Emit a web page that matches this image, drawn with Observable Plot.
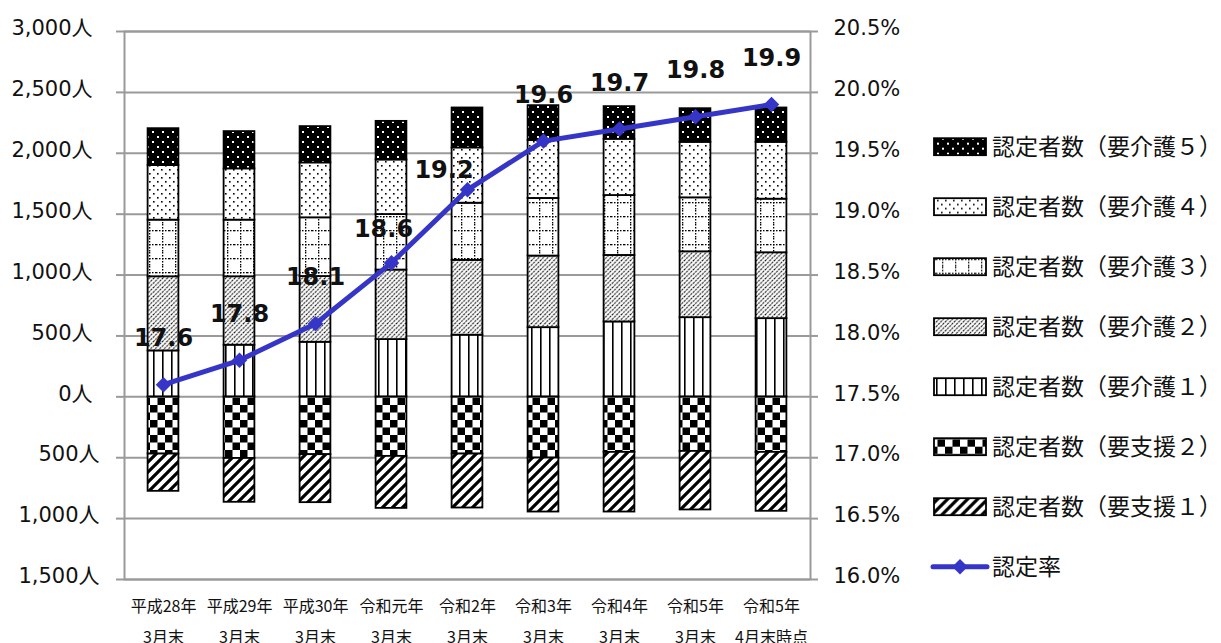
<!DOCTYPE html>
<html lang="ja">
<head>
<meta charset="utf-8">
<script src="https://cdn.jsdelivr.net/npm/d3@7"></script>
<script src="https://cdn.jsdelivr.net/npm/@observablehq/plot@0.6"></script>
<style>
  html, body { margin: 0; padding: 0; background: #fff; }
  #chart { width: 1221px; height: 643px; overflow: hidden; }
</style>
</head>
<body>
<div id="chart"></div>
<script>
// Fiscal periods (two-line tick labels)
const labelTop = ["平成28年", "平成29年", "平成30年", "令和元年", "令和2年", "令和3年", "令和4年", "令和5年", "令和5年"];
const labelBottom = ["3月末", "3月末", "3月末", "3月末", "3月末", "3月末", "3月末", "3月末", "4月末時点"];
const categories = labelTop.map((t, i) => t + labelBottom[i]);

// Certified persons by care level (people)
const kaigo5 = [303, 306, 298, 317, 328, 287, 268, 276, 282];
const kaigo4 = [448, 421, 451, 448, 454, 475, 462, 456, 467];
const kaigo3 = [465, 465, 482, 456, 469, 473, 492, 443, 440];
const kaigo2 = [609, 562, 540, 571, 615, 588, 546, 541, 541];
const kaigo1 = [377, 424, 448, 470, 506, 568, 615, 650, 642];
const shien2 = [470, 506, 475, 489, 470, 503, 456, 448, 456];
const shien1 = [306, 360, 394, 427, 443, 443, 490, 481, 484];

// Certification rate (%)
const rate = [17.6, 17.8, 18.1, 18.6, 19.2, 19.6, 19.7, 19.8, 19.9];

// Axis ticks
const peopleTicks = [-1500, -1000, -500, 0, 500, 1000, 1500, 2000, 2500, 3000];
const rateTicks = [16.0, 16.5, 17.0, 17.5, 18.0, 18.5, 19.0, 19.5, 20.0, 20.5];

// Series names (legend text)
const nameK5 = "認定者数（要介護５）";
const nameK4 = "認定者数（要介護４）";
const nameK3 = "認定者数（要介護３）";
const nameK2 = "認定者数（要介護２）";
const nameK1 = "認定者数（要介護１）";
const nameS2 = "認定者数（要支援２）";
const nameS1 = "認定者数（要支援１）";
const nameRate = "認定率";

// Support levels are drawn below zero; care levels stack upward from zero
const series = [
  {name: nameS2, values: shien2, sign: -1, pat: "pat-s2"},
  {name: nameS1, values: shien1, sign: -1, pat: "pat-s1"},
  {name: nameK1, values: kaigo1, sign: 1, pat: "pat-k1"},
  {name: nameK2, values: kaigo2, sign: 1, pat: "pat-k2"},
  {name: nameK3, values: kaigo3, sign: 1, pat: "pat-k3"},
  {name: nameK4, values: kaigo4, sign: 1, pat: "pat-k4"},
  {name: nameK5, values: kaigo5, sign: 1, pat: "pat-k5"}
];

const rows = categories.flatMap((cat, i) =>
  series.map(s => ({cat, series: s.name, value: s.sign * s.values[i]}))
);

// The rate shares the people axis: 16.0%..20.5% spans -1,500..3,000
const rateToY = r => (r - 16) * 1000 - 1500;
const yToRate = y => (y + 1500) / 1000 + 16;
const rateRows = categories.map((cat, i) => ({cat, i, rate: rate[i], ry: rateToY(rate[i])}));

// Rate labels sit above their markers; two are nudged off the line
const labelShift = {3: [-8, -34], 4: [-23.5, -19]};
const shiftX = d => (labelShift[d.i] || [0, -46])[0];
const shiftY = d => (labelShift[d.i] || [0, -46])[1];

const blue = "#3535c8";
const gridColor = "#9a9a9a";
const numFont = "'DejaVu Sans', 'Noto Sans CJK JP', sans-serif";
const jpFont = "'Noto Sans CJK JP', sans-serif";
const fmtPeople = d => d3.format(",")(Math.abs(d)) + "人";
const fmtRate = d => yToRate(d).toFixed(1) + "%";
const idx = d => categories.indexOf(d);

const labelMarks = rateRows.map(d =>
  Plot.text([d], {
    x: "cat", y: "ry", text: r => r.rate.toFixed(1),
    dx: shiftX(d), dy: shiftY(d),
    fontSize: 24, fontWeight: "bold", fill: "#111", fontFamily: numFont
  })
);

const chart = Plot.plot({
  width: 1221,
  height: 643,
  marginLeft: 124,
  marginRight: 411,
  marginTop: 31,
  marginBottom: 64,
  style: {fontFamily: numFont, fontSize: "21px", color: "#111", background: "#fff", overflow: "hidden"},
  x: {domain: categories, padding: 0, axis: null, label: null},
  y: {domain: [-1500, 3000], axis: null, label: null},
  color: {domain: series.map(s => s.name), range: series.map(s => `url(#${s.pat})`)},
  marks: [
    Plot.gridY(peopleTicks, {stroke: gridColor, strokeOpacity: 1, strokeWidth: 2}),
    Plot.frame({stroke: gridColor, strokeWidth: 2}),
    // tick stubs
    Plot.axisY({anchor: "left", ticks: peopleTicks, tickSize: 8, tickFormat: () => "", label: null, stroke: gridColor, strokeWidth: 2}),
    Plot.axisY({anchor: "right", ticks: peopleTicks, tickSize: 7, tickFormat: () => "", label: null, stroke: gridColor, strokeWidth: 2}),
    // left labels (people)
    Plot.axisY({anchor: "left", ticks: peopleTicks.filter(d => d >= 0), tickSize: 0, tickPadding: 32, tickFormat: fmtPeople, label: null, dy: -3, fontSize: 21, fill: "#111"}),
    Plot.axisY({anchor: "left", ticks: peopleTicks.filter(d => d < 0), tickSize: 0, tickPadding: 25, tickFormat: fmtPeople, label: null, dy: -3, fontSize: 21, fill: "#111"}),
    // right labels (rate)
    Plot.axisY({anchor: "right", ticks: rateTicks.map(rateToY), tickSize: 0, tickPadding: 23, tickFormat: fmtRate, label: null, dy: -3, fontSize: 21, fill: "#111"}),
    // two-line period labels
    Plot.axisX({anchor: "bottom", tickSize: 0, tickPadding: 21, tickFormat: d => labelTop[idx(d)], label: null, fontFamily: jpFont, fontSize: 16, fill: "#111"}),
    Plot.axisX({anchor: "bottom", tickSize: 0, tickPadding: 52, tickFormat: d => labelBottom[idx(d)], label: null, fontFamily: jpFont, fontSize: 16, fill: "#111"}),
    Plot.barY(rows, {x: "cat", y: "value", z: "series", fill: "series", stroke: "#000", strokeWidth: 1.8, insetLeft: 22.6, insetRight: 22.6}),
    Plot.line(rateRows, {x: "cat", y: "ry", stroke: blue, strokeWidth: 5}),
    Plot.dot(rateRows, {x: "cat", y: "ry", symbol: "diamond2", r: 7, fill: blue, stroke: "none"}),
    ...labelMarks
  ]
});

// Fill patterns for the care-level segments
const svg = d3.select(chart);
const defs = svg.insert("defs", ":first-child");
function pattern(id, w, h, draw) {
  const p = defs.append("pattern")
    .attr("id", id)
    .attr("patternUnits", "userSpaceOnUse")
    .attr("width", w)
    .attr("height", h);
  p.append("rect").attr("width", w).attr("height", h).attr("fill", "#fff");
  draw(p);
}
const sq = (p, x, y, w, h, fill) => p.append("rect").attr("x", x).attr("y", y).attr("width", w).attr("height", h).attr("fill", fill);

// 要介護５: black with white dots
pattern("pat-k5", 10, 10, p => {
  sq(p, 0, 0, 10, 10, "#000");
  sq(p, 2, 1, 2, 2, "#fff");
  sq(p, 7, 6, 2, 2, "#fff");
});
// 要介護４: white with black dots
pattern("pat-k4", 8, 8, p => {
  sq(p, 1, 1, 1.6, 1.6, "#000");
  sq(p, 5, 5, 1.6, 1.6, "#000");
});
// 要介護３: dotted grid
pattern("pat-k3", 13, 14, p => {
  for (let y = 0; y < 14; y += 3) sq(p, 6, y, 1.3, 1.5, "#000");
  for (let x = 0; x < 13; x += 3) sq(p, x, 6, 1.5, 1.3, "#000");
});
// 要介護２: fine diagonal hatch
pattern("pat-k2", 4.5, 4.5, p => {
  p.append("path").attr("d", "M0,4.5L4.5,0M-1,1L1,-1M3.5,5.5L5.5,3.5").attr("stroke", "#000").attr("stroke-width", 1).attr("stroke-dasharray", "2.2,0.8");
});
// 要介護１: vertical lines
pattern("pat-k1", 9, 9, p => {
  sq(p, 0, 0, 1.6, 9, "#000");
});
// 要支援２: checkerboard
pattern("pat-s2", 15, 15, p => {
  sq(p, 0, 0, 7.5, 7.5, "#000");
  sq(p, 7.5, 7.5, 7.5, 7.5, "#000");
});
// 要支援１: bold diagonal stripes
pattern("pat-s1", 10, 10, p => {
  p.append("path").attr("d", "M0,10L10,0M-2,2L2,-2M8,12L12,8").attr("stroke", "#000").attr("stroke-width", 3.2);
});

// Legend on the right
const legendItems = [
  {name: nameK5, pat: "pat-k5"},
  {name: nameK4, pat: "pat-k4"},
  {name: nameK3, pat: "pat-k3"},
  {name: nameK2, pat: "pat-k2"},
  {name: nameK1, pat: "pat-k1"},
  {name: nameS2, pat: "pat-s2"},
  {name: nameS1, pat: "pat-s1"},
  {name: nameRate, line: true}
];
const legend = svg.append("g")
  .attr("font-family", jpFont)
  .attr("font-size", 23)
  .attr("fill", "#111")
  .attr("text-anchor", "start");
legendItems.forEach((it, k) => {
  const cy = 146.7 + 60 * k;
  const g = legend.append("g").attr("transform", `translate(0,${cy})`);
  if (it.line) {
    g.append("line").attr("x1", 933).attr("x2", 987).attr("y1", 0).attr("y2", 0)
      .attr("stroke", blue).attr("stroke-width", 5).attr("stroke-linecap", "round");
    g.append("path").attr("d", d3.symbol(d3.symbolDiamond2, 7 * 7 * Math.PI)()).attr("transform", "translate(960,0)").attr("fill", blue);
  } else {
    g.append("rect").attr("x", 934).attr("y", -8.5).attr("width", 52).attr("height", 17)
      .attr("fill", `url(#${it.pat})`).attr("stroke", "#000").attr("stroke-width", 1.8);
  }
  g.append("text").attr("x", 992).attr("y", 0).attr("dy", "0.36em").text(it.name);
});

document.getElementById("chart").appendChild(chart);
</script>
</body>
</html>
